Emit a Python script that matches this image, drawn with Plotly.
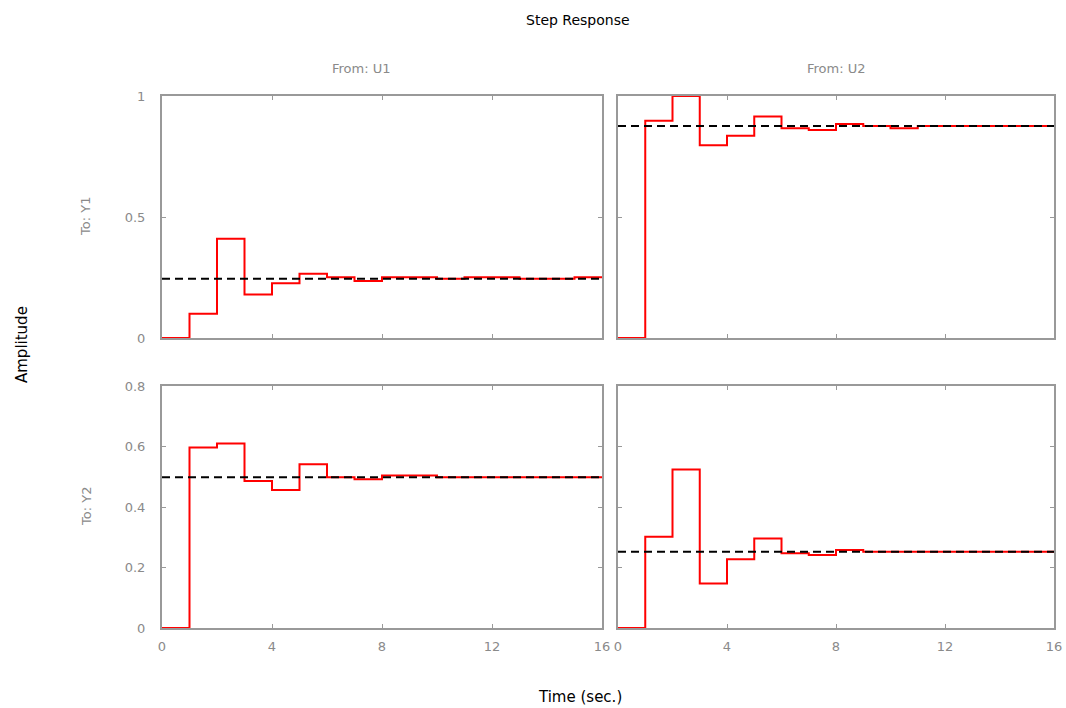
import plotly.graph_objects as go

# Sample times (s) — zero-order-hold steps every 1 s
t = list(range(0, 17))

# Step response samples for each channel (value held over [k, k+1))
u1_y1 = [0.0, 0.10, 0.41, 0.18, 0.226, 0.266, 0.251, 0.236, 0.251, 0.251, 0.245, 0.251, 0.251, 0.245, 0.245, 0.251, 0.251]
u2_y1 = [0.0, 0.898, 1.0, 0.796, 0.836, 0.915, 0.867, 0.860, 0.884, 0.876, 0.867, 0.876, 0.876, 0.876, 0.876, 0.876, 0.876]
u1_y2 = [0.0, 0.597, 0.61, 0.486, 0.456, 0.541, 0.498, 0.492, 0.504, 0.504, 0.498, 0.498, 0.498, 0.498, 0.498, 0.498, 0.498]
u2_y2 = [0.0, 0.302, 0.524, 0.147, 0.227, 0.296, 0.247, 0.241, 0.258, 0.252, 0.252, 0.252, 0.252, 0.252, 0.252, 0.252, 0.252]

# Steady-state (DC gain) values
final_vals = {"u1_y1": 0.245, "u2_y1": 0.876, "u1_y2": 0.498, "u2_y2": 0.252}

col_titles = ["From: U1", "From: U2"]
row_titles = ["To: Y1", "To: Y2"]
x_ticks = [0, 4, 8, 12, 16]
y_ticks_top = [0, 0.5, 1]
y_ticks_top_text = ["0", "0.5", "1"]
y_ticks_bot = [0, 0.2, 0.4, 0.6, 0.8]
y_ticks_bot_text = ["0", "0.2", "0.4", "0.6", "0.8"]

W, H = 1066, 708
FONT = "DejaVu Sans"
GRAY = "#8a8a8a"
FRAME = "#999999"

def px_x(p):
    return p / W

def px_y(p):
    return 1 - p / H

xdom = [[px_x(162), px_x(602)], [px_x(618), px_x(1054)]]
ydom = [[px_y(338), px_y(96)], [px_y(628), px_y(386)]]

fig = go.Figure()

panels = [
    (0, 0, u1_y1, "u1_y1"),
    (0, 1, u2_y1, "u2_y1"),
    (1, 0, u1_y2, "u1_y2"),
    (1, 1, u2_y2, "u2_y2"),
]

layout = {}
for idx, (r, c, vals, key) in enumerate(panels):
    n = idx + 1
    xa = "x" if n == 1 else f"x{n}"
    ya = "y" if n == 1 else f"y{n}"
    fig.add_trace(go.Scatter(x=t, y=vals, mode="lines", line=dict(color="red", width=2, shape="hv"),
                             xaxis=xa, yaxis=ya, showlegend=False, hoverinfo="skip"))
    fig.add_trace(go.Scatter(x=[t[0], t[-1]], y=[final_vals[key]] * 2, mode="lines",
                             line=dict(color="black", width=2, dash="8px,5px"),
                             xaxis=xa, yaxis=ya, showlegend=False, hoverinfo="skip"))
    xname = "xaxis" if n == 1 else f"xaxis{n}"
    yname = "yaxis" if n == 1 else f"yaxis{n}"
    layout[xname] = dict(domain=xdom[c], anchor=ya, range=[0, 16], tickvals=x_ticks,
                         showticklabels=(r == 1), ticks="inside", ticklen=4, tickcolor=FRAME,
                         showline=True, mirror="ticks", linecolor=FRAME, linewidth=2,
                         showgrid=False, zeroline=False, layer="below traces",
                         ticklabelstandoff=5,
                         tickfont=dict(family=FONT, size=13, color=GRAY))
    if r == 0:
        tv, tt, rng = y_ticks_top, y_ticks_top_text, [0, 1]
    else:
        tv, tt, rng = y_ticks_bot, y_ticks_bot_text, [0, 0.8]
    layout[yname] = dict(domain=ydom[r], anchor=xa, range=rng, tickvals=tv, ticktext=tt,
                         showticklabels=(c == 0), ticks="inside", ticklen=4, tickcolor=FRAME,
                         showline=True, mirror="ticks", linecolor=FRAME, linewidth=2,
                         showgrid=False, zeroline=False, layer="below traces",
                         ticklabelstandoff=12,
                         tickfont=dict(family=FONT, size=13, color=GRAY))

annotations = [
    dict(text="Step Response", x=px_x(578), y=px_y(20), xref="paper", yref="paper", showarrow=False,
         font=dict(family=FONT, size=14, color="black"), xanchor="center", yanchor="middle"),
    dict(text=col_titles[0], x=px_x(362), y=px_y(68), xref="paper", yref="paper", showarrow=False,
         font=dict(family=FONT, size=13, color=GRAY), xanchor="center", yanchor="middle"),
    dict(text=col_titles[1], x=px_x(836), y=px_y(68), xref="paper", yref="paper", showarrow=False,
         font=dict(family=FONT, size=13, color=GRAY), xanchor="center", yanchor="middle"),
    dict(text=row_titles[0], x=px_x(86), y=px_y(217), xref="paper", yref="paper", showarrow=False,
         textangle=-90, font=dict(family=FONT, size=13, color=GRAY), xanchor="center", yanchor="middle"),
    dict(text=row_titles[1], x=px_x(86), y=px_y(507), xref="paper", yref="paper", showarrow=False,
         textangle=-90, font=dict(family=FONT, size=13, color=GRAY), xanchor="center", yanchor="middle"),
    dict(text="Amplitude", x=px_x(22), y=px_y(345), xref="paper", yref="paper", showarrow=False,
         textangle=-90, font=dict(family=FONT, size=15, color="black"), xanchor="center", yanchor="middle"),
    dict(text="Time (sec.)", x=px_x(580), y=px_y(697), xref="paper", yref="paper", showarrow=False,
         font=dict(family=FONT, size=15, color="black"), xanchor="center", yanchor="middle"),
]

fig.update_layout(width=W, height=H, margin=dict(l=0, r=0, t=0, b=0), template="none",
                  paper_bgcolor="white", plot_bgcolor="white", annotations=annotations, **layout)

fig.write_html("out.html")
